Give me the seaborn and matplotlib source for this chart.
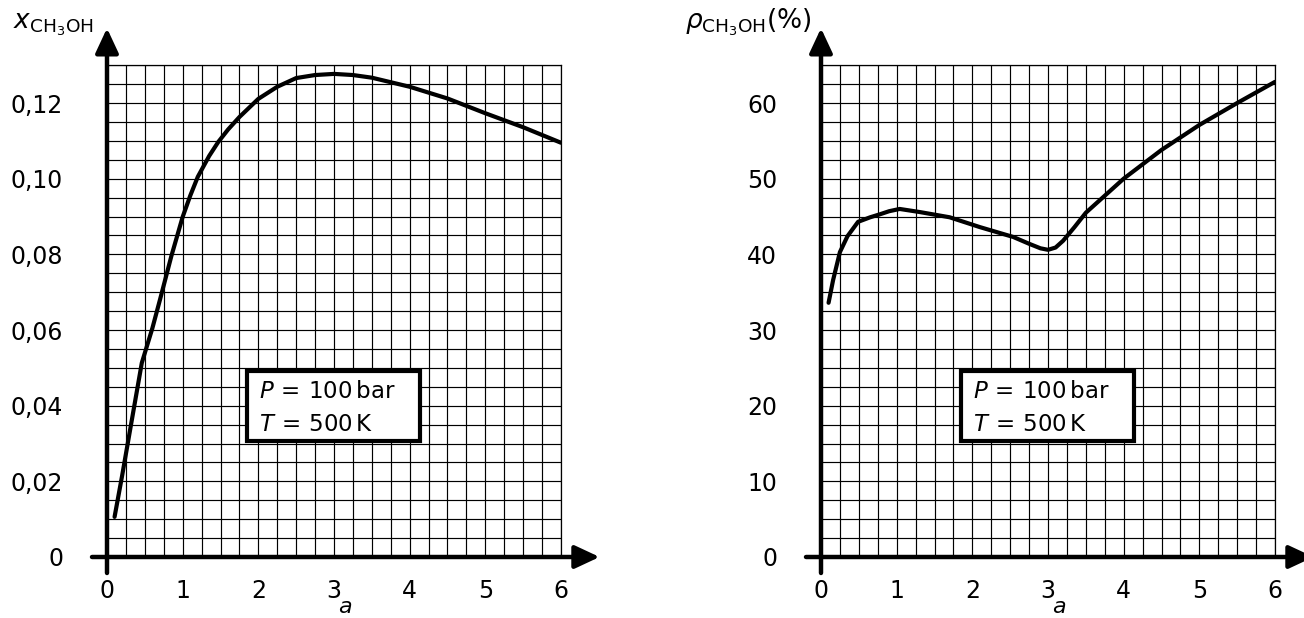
import matplotlib
matplotlib.use("Agg")
import matplotlib.pyplot as plt
import seaborn as sns
import pandas as pd
from matplotlib.ticker import MultipleLocator, FixedLocator, FixedFormatter
from matplotlib.patches import Rectangle

# ---------------- data ----------------
a_left = [0.1, 0.2, 0.3, 0.46, 0.6, 0.7, 0.85, 1.0, 1.1, 1.2, 1.35, 1.47, 1.6,
          1.75, 2.0, 2.25, 2.5, 2.75, 3.0, 3.25, 3.5, 4.0, 4.5, 5.0, 5.5, 6.0]
x_ch3oh = [0.0106, 0.0215, 0.0330, 0.0513, 0.0605, 0.0680, 0.0795, 0.0899,
           0.0955, 0.1005, 0.1060, 0.1097, 0.1130, 0.1163, 0.1211, 0.1243,
           0.1266, 0.1274, 0.1277, 0.1274, 0.1267, 0.1243, 0.1212, 0.1173,
           0.1136, 0.1095]

a_right = [0.1, 0.16, 0.25, 0.35, 0.49, 0.65, 0.78, 0.9, 1.04, 1.3, 1.7, 2.1,
           2.54, 2.75, 2.9, 3.0, 3.1, 3.2, 3.35, 3.5, 4.0, 4.5, 5.0, 5.5, 6.0]
rho_ch3oh = [33.6, 36.6, 40.3, 42.4, 44.3, 44.9, 45.3, 45.7, 46.0, 45.6, 44.9,
             43.6, 42.3, 41.4, 40.8, 40.6, 40.9, 41.8, 43.6, 45.5, 50.0, 53.8,
             57.1, 60.0, 62.8]

x_ticks = [0, 1, 2, 3, 4, 5, 6]
x_tick_labels = ["0", "1", "2", "3", "4", "5", "6"]
left_yticks = [0, 0.02, 0.04, 0.06, 0.08, 0.10, 0.12]
left_ytick_labels = ["0", "0,02", "0,04", "0,06", "0,08", "0,10", "0,12"]
right_yticks = [0, 10, 20, 30, 40, 50, 60]
right_ytick_labels = ["0", "10", "20", "30", "40", "50", "60"]

x_label = r"$a$"
left_ylabel = r"$x_{\mathregular{CH_3OH}}$"
right_ylabel = r"$\rho_{\mathregular{CH_3OH}}(\%)$"
box_lines = [r"$P\,=\,100\,\mathregular{bar}$", r"$T\,=\,500\,\mathregular{K}$"]

# ---------------- style ----------------
sns.set_theme(style="white")
plt.rcParams["font.family"] = ["DejaVu Sans"]
plt.rcParams["mathtext.fontset"] = "dejavusans"
plt.rcParams["text.color"] = "black"
plt.rcParams["xtick.color"] = "black"
plt.rcParams["ytick.color"] = "black"

W, H = 1304, 618
fig = plt.figure(figsize=(W / 100, H / 100), dpi=100)

def px_axes(x0, x1, y_bottom, y_top):
    return [x0 / W, (H - y_bottom) / H, (x1 - x0) / W, (y_bottom - y_top) / H]

ax_l = fig.add_axes(px_axes(107, 561, 557, 65.2))
ax_r = fig.add_axes(px_axes(821, 1275, 557, 65.2))

df_l = pd.DataFrame({"a": a_left, "v": x_ch3oh})
df_r = pd.DataFrame({"a": a_right, "v": rho_ch3oh})

panels = [
    (ax_l, df_l, 0.13, 0.005, left_yticks, left_ytick_labels, left_ylabel, 1.085, 13),
    (ax_r, df_r, 65, 2.5, right_yticks, right_ytick_labels, right_ylabel, 1.085, 685),
]

for ax, df, ytop, yminor, yt, ytl, ylab, xtip, lab_x in panels:
    ax.set_xlim(0, 6)
    ax.set_ylim(0, ytop)
    ax.set_facecolor("white")
    ax.xaxis.set_minor_locator(MultipleLocator(0.25))
    ax.yaxis.set_minor_locator(MultipleLocator(yminor))
    ax.xaxis.set_major_locator(FixedLocator(x_ticks))
    ax.xaxis.set_major_formatter(FixedFormatter(x_tick_labels))
    ax.yaxis.set_major_locator(FixedLocator(yt))
    ax.yaxis.set_major_formatter(FixedFormatter(ytl))
    ax.grid(which="both", color="black", lw=0.85)
    ax.set_axisbelow(True)
    for s in ["left", "bottom"]:
        ax.spines[s].set_visible(False)
    for s in ["top", "right"]:
        ax.spines[s].set_visible(True)
        ax.spines[s].set_color("black")
        ax.spines[s].set_linewidth(0.9)
    ax.tick_params(which="major", direction="inout", length=21, width=3,
                   color="black", labelsize=17, labelcolor="black")
    ax.tick_params(axis="y", which="major", pad=21)
    ax.tick_params(axis="x", which="major", pad=5)
    ax.tick_params(which="minor", length=0)

    sns.lineplot(data=df, x="a", y="v", ax=ax, color="black", lw=3,
                 estimator=None, sort=False, zorder=5)
    ax.set_xlabel("")
    ax.set_ylabel("")

    # axis arrows
    arrow = dict(arrowstyle="-|>,head_length=0.75,head_width=0.35",
                 lw=3.2, color="black", shrinkA=0, shrinkB=0,
                 mutation_scale=20)
    ax.annotate("", xy=(0, 1 + 37 / 491.8), xytext=(0, -16 / 491.8),
                xycoords="axes fraction", textcoords="axes fraction",
                arrowprops=arrow, annotation_clip=False, zorder=6)
    ax.annotate("", xy=(xtip, 0), xytext=(-15 / 454, 0),
                xycoords="axes fraction", textcoords="axes fraction",
                arrowprops=arrow, annotation_clip=False, zorder=6)

    # x label
    ax.text(0.525, -56 / 491.8, x_label, transform=ax.transAxes,
            ha="center", va="baseline", fontsize=16)

    # y label
    fig.text(lab_x / W, 1 - 28 / H, ylab, ha="left", va="baseline", fontsize=19)

    # parameter box
    ax.add_patch(Rectangle((0.308, 0.2359), 0.381, 0.1423, transform=ax.transAxes,
                           facecolor="white", edgecolor="black", lw=3, zorder=7))
    ax.text(0.335, (557 - 398) / 491.8, box_lines[0], transform=ax.transAxes,
            ha="left", va="baseline", fontsize=16.5, zorder=8)
    ax.text(0.335, (557 - 431) / 491.8, box_lines[1], transform=ax.transAxes,
            ha="left", va="baseline", fontsize=16.5, zorder=8)

fig.savefig("out.png", dpi=100)
